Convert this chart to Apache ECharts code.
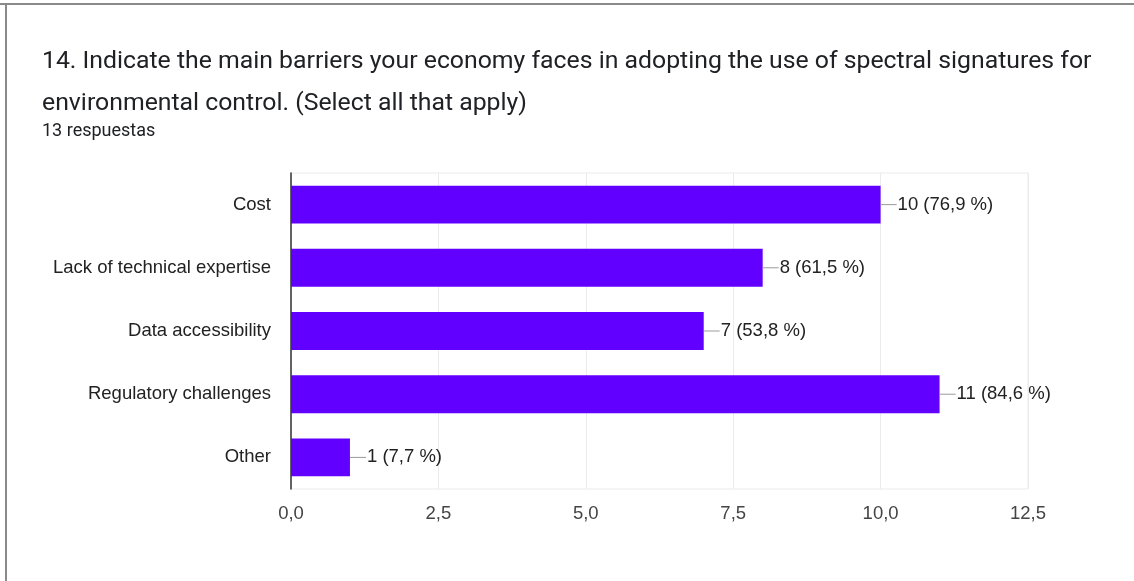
<!DOCTYPE html>
<html>
<head>
<meta charset="utf-8">
<script src="https://cdn.jsdelivr.net/npm/echarts@6/dist/echarts.min.js"></script>
<style>
html,body{margin:0;padding:0;background:#fff;}
#c{width:1134px;height:581px;}
</style>
</head>
<body>
<div id="c"></div>
<script>
var titleLines = ['14. Indicate the main barriers your economy faces in adopting the use of spectral signatures for', 'environmental control. (Select all that apply)'];
var subtitle = '13 respuestas';
var categories = ['Cost', 'Lack of technical expertise', 'Data accessibility', 'Regulatory challenges', 'Other'];
var counts = [10, 8, 7, 11, 1];
var percents = ['76,9', '61,5', '53,8', '84,6', '7,7'];
var xTicks = [0, 2.5, 5, 7.5, 10, 12.5];

var chart = echarts.init(document.getElementById('c'));
var axisFont = '"Liberation Sans", Arial, sans-serif';
chart.setOption({
  animation: false,
  backgroundColor: '#fff',
  graphic: [
    {type: 'rect', shape: {x: 0, y: 3, width: 1134, height: 2}, style: {fill: '#8a8a8a'}},
    {type: 'rect', shape: {x: 5, y: 3, width: 2, height: 578}, style: {fill: '#8a8a8a'}},
    {type: 'text', left: 42, top: 49, style: {text: titleLines[0], font: '24.8px Roboto', fill: '#202124'}},
    {type: 'text', left: 42, top: 91, style: {text: titleLines[1], font: '24.8px Roboto', fill: '#202124'}},
    {type: 'text', left: 42, top: 122, style: {text: subtitle, font: '18px Roboto', fill: '#202124'}}
  ],
  grid: {left: 291, right: 106, top: 173, bottom: 92, show: true, borderColor: '#ebebeb', borderWidth: 1},
  xAxis: {
    type: 'value', min: xTicks[0], max: xTicks[xTicks.length - 1], interval: xTicks[1] - xTicks[0],
    axisLine: {show: false}, axisTick: {show: false},
    splitLine: {lineStyle: {color: '#ebebeb', width: 1}},
    axisLabel: {
      margin: 15, color: '#444', fontSize: 18.5, fontFamily: axisFont,
      formatter: function (v) { return v.toFixed(1).replace('.', ','); }
    }
  },
  yAxis: {
    type: 'category', data: categories, inverse: true,
    axisLine: {show: true, lineStyle: {color: '#333', width: 1.5}},
    axisTick: {show: false},
    splitLine: {show: false},
    axisLabel: {margin: 20, color: '#222', fontSize: 18.5, fontFamily: axisFont}
  },
  series: [{
    type: 'bar',
    data: counts,
    barCategoryGap: '40%',
    itemStyle: {color: '#6200ff'},
    label: {
      show: true, position: 'right', distance: 0,
      formatter: function (p) {
        return '{l|}{v|' + counts[p.dataIndex] + ' (' + percents[p.dataIndex] + ' %)}';
      },
      rich: {
        l: {width: 16, height: 1, backgroundColor: '#9a9a9a', verticalAlign: 'middle'},
        v: {fontSize: 18.5, fontFamily: axisFont, color: '#222', padding: [0, 0, 0, 1]}
      }
    }
  }]
});
</script>
</body>
</html>
